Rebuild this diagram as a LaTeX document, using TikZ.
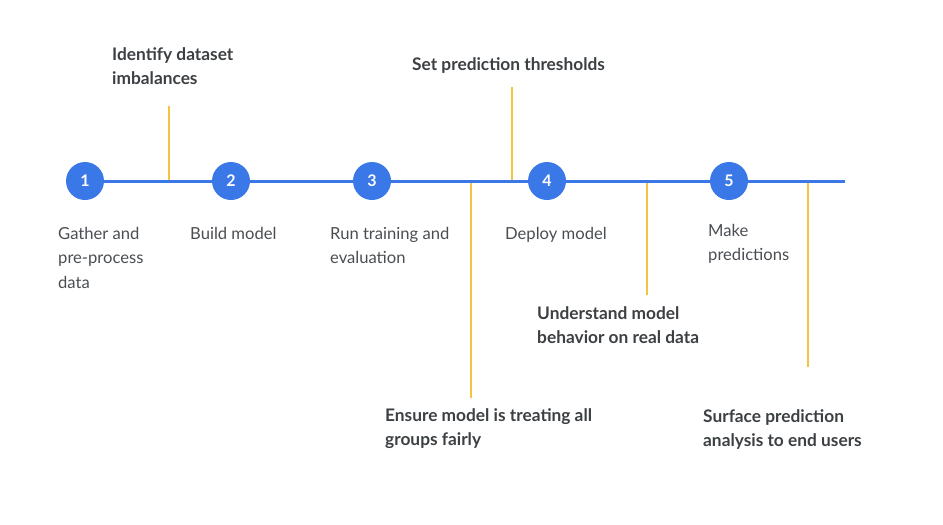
\documentclass[tikz,border=0pt]{standalone}
\usepackage{fontspec}
\setmainfont{Lato}
\definecolor{gblue}{HTML}{3B78E7}
\definecolor{gyellow}{HTML}{F6C244}
\definecolor{txtdark}{HTML}{3C4043}
\definecolor{txtreg}{HTML}{4A4E53}
\begin{document}
\begin{tikzpicture}[x=1pt,y=-1pt,
  stepnode/.style={circle, fill=gblue, minimum size=38pt, inner sep=0pt, text=white, font=\fontsize{16}{16}\selectfont\bfseries},
  mainline/.style={gblue, line width=3pt},
  yline/.style={gyellow, line width=2pt},
  boldlbl/.style={anchor=north west, inner sep=0pt, align=left, text=txtdark, font=\fontsize{17.3}{24}\selectfont\bfseries},
  reglbl/.style={anchor=north west, inner sep=0pt, align=left, text=txtreg, font=\fontsize{16.6}{24.5}\selectfont}]
\useasboundingbox (0,0) rectangle (943,525);
% steps
\node[stepnode] (s1) at (85,181) {1};
\node[stepnode] (s2) at (231,181) {2};
\node[stepnode] (s3) at (372,181) {3};
\node[stepnode] (s4) at (547,181) {4};
\node[stepnode] (s5) at (729,181) {5};
\coordinate (lineend) at (845,181);
% junctions on the main line
\coordinate (jA) at (169,181);
\coordinate (jB) at (471,181);
\coordinate (jC) at (512,181);
\coordinate (jD) at (647,181);
\coordinate (jE) at (808,181);
% free ends of the yellow lines
\coordinate (eA) at (169,106);
\coordinate (eB) at (471,398);
\coordinate (eC) at (512,87);
\coordinate (eD) at (647,295);
\coordinate (eE) at (808,367);
% yellow lines
\draw[yline] (jA) -- (eA);
\draw[yline] (jB) -- (eB);
\draw[yline] (jC) -- (eC);
\draw[yline] (jD) -- (eD);
\draw[yline] (jE) -- (eE);
% main line
\draw[mainline] (s1) -- (s2);
\draw[mainline] (s2) -- (s3);
\draw[mainline] (s3) -- (s4);
\draw[mainline] (s4) -- (s5);
\draw[mainline] (s5) -- (lineend);
% step labels
\node[reglbl] (l1) at (58,227) {Gather and\\pre-process\\data};
\node[reglbl] (l2) at (190,227) {Build model};
\node[reglbl] (l3) at (330,227) {Run training and\\evaluation};
\node[reglbl] (l4) at (505,227) {Deploy model};
\node[reglbl] (l5) at (708,224) {Make\\predictions};
% task labels
\node[boldlbl] (tA) at (112,47) {Identify dataset\\imbalances};
\node[boldlbl] (tC) at (412,57) {Set prediction thresholds};
\node[boldlbl] (tB) at (385,408) {Ensure model is treating all\\groups fairly};
\node[boldlbl] (tD) at (537,306) {Understand model\\behavior on real data};
\node[boldlbl] (tE) at (703,409) {Surface prediction\\analysis to end users};
\end{tikzpicture}
\end{document}
